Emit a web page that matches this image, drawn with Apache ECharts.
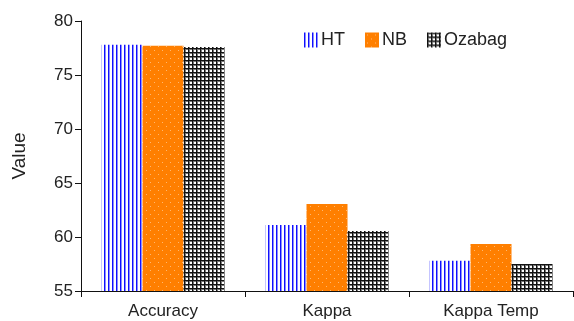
<!DOCTYPE html>
<html>
<head>
<meta charset="utf-8">
<script src="https://cdn.jsdelivr.net/npm/echarts@6/dist/echarts.min.js"></script>
<style>
  html, body { margin: 0; padding: 0; background: #fff; }
  #main { width: 574px; height: 321px; }
</style>
</head>
<body>
<div id="main"></div>
<script>
var categories = ['Accuracy', 'Kappa', 'Kappa Temp'];
var htValues = [77.8, 61.1, 57.8];
var nbValues = [77.7, 63.05, 59.35];
var ozabagValues = [77.6, 60.55, 57.5];
var yTicks = [55, 60, 65, 70, 75, 80];

// pattern fills
function makePattern(w, h, draw) {
	var c = document.createElement('canvas');
	c.width = w; c.height = h;
	draw(c.getContext('2d'));
	return { image: c, repeat: 'repeat' };
}
var htFill = makePattern(4, 4, function(ctx) {
	ctx.fillStyle = '#fff'; ctx.fillRect(0, 0, 4, 4);
	ctx.fillStyle = '#1010ff'; ctx.fillRect(0, 0, 1, 4);
	ctx.fillStyle = '#8c8cff'; ctx.fillRect(1, 0, 1, 4);
});
var nbFill = makePattern(8, 8, function(ctx) {
	ctx.fillStyle = '#ff7f00'; ctx.fillRect(0, 0, 8, 8);
	ctx.fillStyle = '#ffb870';
	ctx.fillRect(2, 2, 1, 1);
	ctx.fillRect(6, 6, 1, 1);
});
var ozFill = makePattern(4, 4, function(ctx) {
	ctx.fillStyle = '#fff'; ctx.fillRect(0, 0, 4, 4);
	ctx.fillStyle = '#777'; ctx.fillRect(1, 0, 1, 4); ctx.fillRect(0, 1, 4, 1);
	ctx.fillStyle = '#111'; ctx.fillRect(0, 0, 1, 4); ctx.fillRect(0, 0, 4, 1);
});

var font = 'Liberation Sans';
var chart = echarts.init(document.getElementById('main'));
chart.setOption({
	animation: false,
	textStyle: { fontFamily: font },
	grid: { left: 81, right: 1, top: 21, bottom: 30 },
	legend: {
		left: 299, top: 26, icon: 'rect',
		itemWidth: 14, itemHeight: 15, itemGap: 20,
		textStyle: { fontSize: 18, color: '#222', fontFamily: font, padding: [0, 0, 0, -2] },
		data: ['HT', 'NB', 'Ozabag']
	},
	xAxis: {
		type: 'category',
		data: categories,
		axisLine: { lineStyle: { color: '#111', width: 1 } },
		axisTick: { show: true, alignWithLabel: false, length: 6, lineStyle: { color: '#111' } },
		axisLabel: { fontSize: 17, color: '#222', margin: 12, fontFamily: font }
	},
	yAxis: {
		type: 'value',
		min: yTicks[0], max: yTicks[yTicks.length - 1], interval: 5,
		name: 'Value', nameLocation: 'middle', nameGap: 52, nameRotate: 90,
		nameTextStyle: { fontSize: 19, color: '#222', fontFamily: font },
		axisLine: { show: true, lineStyle: { color: '#111', width: 1 } },
		axisTick: { show: true, length: 6, lineStyle: { color: '#111' } },
		axisLabel: { fontSize: 17, color: '#222', margin: 8, fontFamily: font },
		splitLine: { show: false }
	},
	series: [
		{ name: 'HT', type: 'bar', data: htValues, barGap: '0%', barCategoryGap: '25%', itemStyle: { color: htFill } },
		{ name: 'NB', type: 'bar', data: nbValues, barGap: '0%', barCategoryGap: '25%', itemStyle: { color: nbFill } },
		{ name: 'Ozabag', type: 'bar', data: ozabagValues, barGap: '0%', barCategoryGap: '25%', itemStyle: { color: ozFill } }
	]
});
</script>
</body>
</html>
